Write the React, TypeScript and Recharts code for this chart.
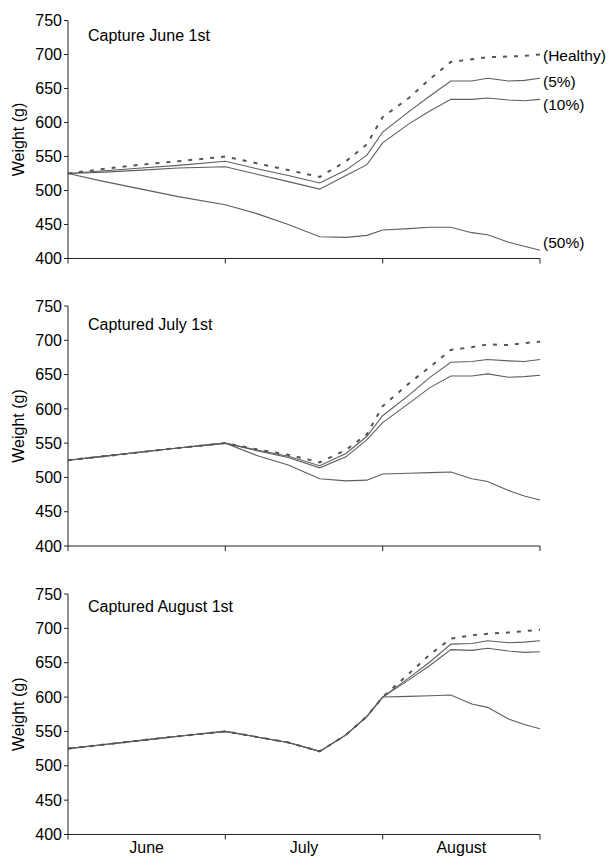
import { LineChart, Line, XAxis, YAxis, LabelList } from "recharts";

const FONT = "'Liberation Sans', Arial, Helvetica, sans-serif";

// days since June 1st
const days = [0, 7, 14, 21, 30, 36, 42, 48, 53, 57, 60, 65, 69, 73, 77, 80, 84, 87, 90];
const yTicks = [400, 450, 500, 550, 600, 650, 700, 750];
const xTicks = [0, 15, 30, 45, 60, 75, 90];
const monthMids = [15, 45, 75];
const monthNames = ["June", "July", "August"];

// Captured June 1st
const juneHealthy = [525, 532, 538, 543, 550, 540, 530, 520, 543, 568, 608, 636, 664, 689, 693, 696, 697, 698, 700];
const juneP5 = [525, 529, 533, 537, 543, 532, 522, 511, 530, 552, 586, 616, 639, 661, 661, 665, 661, 662, 665];
const juneP10 = [525, 527, 530, 533, 535, 524, 513, 502, 522, 538, 570, 598, 617, 634, 634, 636, 633, 632, 634];
const juneP50 = [525, 513, 502, 491, 479, 466, 450, 432, 431, 434, 442, 444, 446, 446, 438, 435, 424, 418, 412];

// Captured July 1st
const julyHealthy = [525, 531, 537, 543, 550, 541, 533, 522, 540, 563, 604, 637, 661, 686, 690, 694, 693, 696, 698];
const julyP5 = [525, 531, 537, 543, 550, 540, 531, 517, 535, 560, 590, 620, 646, 668, 669, 672, 670, 669, 672];
const julyP10 = [525, 531, 537, 543, 550, 539, 529, 514, 530, 555, 580, 608, 631, 648, 648, 651, 646, 647, 649];
const julyP50 = [525, 531, 537, 543, 550, 532, 518, 498, 495, 496, 505, 506, 507, 508, 498, 494, 481, 473, 467];

// Captured August 1st
const augShared = [525, 531, 537, 543, 550, 542, 534, 521, 545, 572, 600];
const augHealthy = [...augShared, 634, 662, 685, 690, 692, 694, 696, 698];
const augP5 = [...augShared, 628, 651, 677, 678, 682, 679, 680, 682];
const augP10 = [...augShared, 625, 646, 669, 668, 671, 667, 665, 666];
const augP50 = [...augShared, 601, 602, 603, 590, 585, 568, 560, 554];

const tagFor = (text: string, dy: number) => (props: any) => {
  const { x, y, index } = props;
  if (index !== days.length - 1) return null;
  return (
    <text x={x + 3} y={y + dy} dominantBaseline="central" fontSize={15.5} fontFamily={FONT} fill="#000">
      {text}
    </text>
  );
};

function MonthTick(props: any) {
  const { x, y, payload, showNames } = props;
  const v = payload.value;
  if (v % 30 === 0) return <line x1={x} x2={x} y1={y} y2={y + 5} stroke="#222" />;
  if (!showNames) return null;
  return (
    <text x={x} y={y + 18.5} textAnchor="middle" fontSize={16} fontFamily={FONT} fill="#000">
      {monthNames[monthMids.indexOf(v)]}
    </text>
  );
}

interface PanelProps {
  title: string;
  titleY: number;
  healthy: number[];
  p5: number[];
  p10: number[];
  p50: number[];
  height: number;
  marginTop: number;
  marginBottom: number;
  axisHeight: number;
  months?: boolean;
  tags?: boolean;
}

function Panel({ title, titleY, healthy, p5, p10, p50, height, marginTop, marginBottom, axisHeight, months, tags }: PanelProps) {
  const data = days.map((day, i) => ({ day, healthy: healthy[i], p5: p5[i], p10: p10[i], p50: p50[i] }));
  const solid = { type: "linear" as const, stroke: "#5e5e5e", strokeWidth: 1.1, dot: false, isAnimationActive: false };
  return (
    <LineChart width={609} height={height} data={data} margin={{ top: marginTop, right: 69, left: 0, bottom: marginBottom }}>
      <XAxis
        dataKey="day"
        type="number"
        domain={[0, 90]}
        ticks={xTicks}
        interval={0}
        height={axisHeight}
        tickLine={false}
        tickSize={0}
        tickMargin={0}
        stroke="#222"
        tick={(p: any) => <MonthTick {...p} showNames={months} />}
      />
      <YAxis
        type="number"
        domain={[400, 750]}
        ticks={yTicks}
        interval={0}
        width={68}
        tickSize={4}
        tickMargin={2}
        stroke="#222"
        tick={{ fill: "#000", fontSize: 16, fontFamily: FONT }}
        label={{
          value: "Weight (g)",
          angle: -90,
          position: "insideLeft",
          offset: 18,
          fill: "#000",
          fontSize: 16,
          fontFamily: FONT,
          style: { textAnchor: "middle" },
        }}
      />
      <Line dataKey="p50" {...solid}>
        {tags && <LabelList dataKey="p50" content={tagFor("(50%)", -8)} />}
      </Line>
      <Line dataKey="p10" {...solid}>
        {tags && <LabelList dataKey="p10" content={tagFor("(10%)", 5)} />}
      </Line>
      <Line dataKey="p5" {...solid}>
        {tags && <LabelList dataKey="p5" content={tagFor("(5%)", 3)} />}
      </Line>
      <Line dataKey="healthy" type="linear" stroke="#555" strokeWidth={2} strokeDasharray="4 7" dot={false} isAnimationActive={false}>
        {tags && <LabelList dataKey="healthy" content={tagFor("(Healthy)", 1)} />}
      </Line>
      <text x={88} y={titleY} fontSize={16} fontFamily={FONT} fill="#000">
        {title}
      </text>
    </LineChart>
  );
}

export default function App() {
  return (
    <div style={{ position: "absolute", left: 0, top: 0, width: 609, height: 857, background: "#fff", overflow: "hidden" }}>
      <Panel
        title="Capture June 1st"
        titleY={41}
        healthy={juneHealthy}
        p5={juneP5}
        p10={juneP10}
        p50={juneP50}
        height={282}
        marginTop={20.5}
        marginBottom={17.5}
        axisHeight={6}
        tags
      />
      <Panel
        title="Captured July 1st"
        titleY={48}
        healthy={julyHealthy}
        p5={julyP5}
        p10={julyP10}
        p50={julyP50}
        height={282}
        marginTop={24}
        marginBottom={12}
        axisHeight={6}
      />
      <Panel
        title="Captured August 1st"
        titleY={48}
        healthy={augHealthy}
        p5={augP5}
        p10={augP10}
        p50={augP50}
        height={293}
        marginTop={30}
        marginBottom={0}
        axisHeight={22.5}
        months
      />
    </div>
  );
}
